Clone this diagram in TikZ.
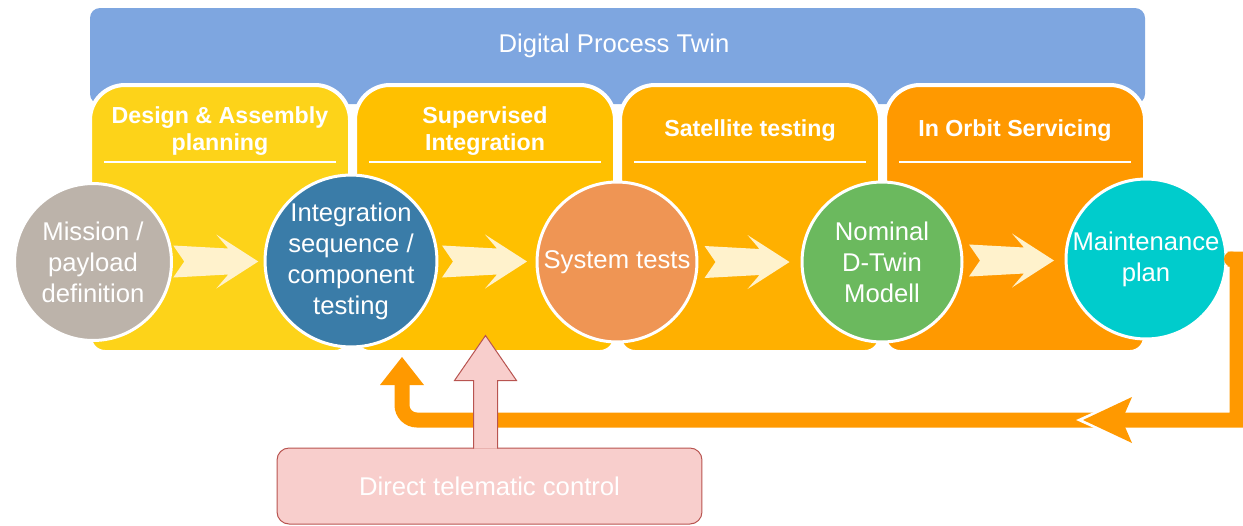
\documentclass[tikz,border=0pt]{standalone}
\usepackage{fontspec}
\setmainfont{Liberation Sans}
\usetikzlibrary{calc}

\definecolor{twinblue}{HTML}{7EA6E0}
\definecolor{phaseA}{HTML}{FDD319}
\definecolor{phaseB}{HTML}{FFC000}
\definecolor{phaseC}{HTML}{FFB000}
\definecolor{phaseD}{HTML}{FF9900}
\definecolor{taupe}{HTML}{BCB3AA}
\definecolor{steel}{HTML}{3A7CA8}
\definecolor{salmon}{HTML}{EF9554}
\definecolor{leaf}{HTML}{6BB95E}
\definecolor{aqua}{HTML}{00CCCC}
\definecolor{cream}{HTML}{FFF2CC}
\definecolor{rose}{HTML}{F8CECC}
\definecolor{roseline}{HTML}{B85450}

% one phase panel: left x, colour, heading, name
\newcommand\phasebox[4]{%
  \path[fill=#2,draw=white,line width=0.08cm]
    (#1+130,352) [rounded corners=0.3cm] -- (#1,352)
    [rounded corners=0.7cm] -- (#1,85) -- (#1+260,85)
    [rounded corners=0.3cm] -- (#1+260,352) -- cycle;
  \node[heading] (#4) at (#1+130,131) {#3};
  \draw[white,line width=0.03cm] (#1+14,162) -- (#1+246,162);
}

\begin{document}
\begin{tikzpicture}[x=0.02cm,y=-0.02cm,
    heading/.style={text=white,align=center,font=\fontsize{13.2}{15.4}\selectfont\bfseries},
    stage/.style={circle,draw=white,line width=0.06cm,minimum size=3.2cm,inner sep=0pt,
      text=white,align=center,font=\fontsize{14.6}{17.6}\selectfont},
    chev/.pic={\fill[cream] (-43,-16) -- (12,-13) -- (0,-27) -- (42,0) -- (0,27)
      -- (12,13) -- (-43,16) -- (-32,0) -- cycle;},
    feedback/.style={phaseD,line width=0.3cm},
    telebox/.style={rectangle,rounded corners=0.24cm,fill=rose,draw=roseline,line width=0.02cm,
      minimum width=8.5cm,minimum height=1.52cm,text=white,font=\fontsize{14.6}{17.6}\selectfont}]
\useasboundingbox (0,0) rectangle (1243,525);

% top band
\fill[twinblue,rounded corners=0.2cm] (90,8) rectangle (1145,104);
\node[text=white,font=\fontsize{14.6}{17.6}\selectfont] (dpt) at (614,46) {Digital Process Twin};

% phases
\phasebox{90}{phaseA}{Design \& Assembly\\planning}{design}
\phasebox{355}{phaseB}{Supervised\\Integration}{superv}
\phasebox{620}{phaseC}{Satellite testing}{sattest}
\phasebox{885}{phaseD}{In Orbit Servicing}{orbit}

% stages
\node[stage,fill=taupe,minimum size=3.14cm] (mission) at (93,262) {Mission /\\payload\\definition};
\node[stage,fill=steel] (integ) at (351,261) {Integration\\sequence /\\component\\testing};
\node[stage,fill=salmon] (systest) at (617,262) {System tests};
\node[stage,fill=leaf] (nominal) at (882,262) {Nominal\\D-Twin\\Modell};
\node[stage,fill=aqua] (upkeep) at (1146,259) {Maintenance\\plan};

\foreach \a/\b in {mission/integ,integ/systest,systest/nominal,nominal/upkeep}
  \pic at ($(\a.east)!0.5!(\b.west)+(-2,0)$) {chev};

% feedback loop back to integration
\coordinate (turnR) at (1237,420);
\coordinate (turnL) at (402,420);
\coordinate (fbtip) at (402,357);
\draw[feedback] (upkeep.east) -| (turnR)
  [rounded corners=0.3cm] -- (turnL) -- ($(fbtip)+(0,26)$);
\fill[phaseD] ($(fbtip)+(-22,28)$) -- (fbtip) -- ($(fbtip)+(22,28)$) -- cycle;
\fill[phaseD] ($(upkeep.east)+(4,0)$) circle[radius=0.15cm];
\coordinate (mark) at ($(turnR)+(-154,0)$);
\draw[white,line width=0.08cm] ($(mark)+(49,-23)$) -- ($(mark)+(-2,0)$) -- ($(mark)+(49,23)$);
\fill[phaseD] (mark) -- ++(49,-23) -- ++(-10,23) -- ++(10,23) -- cycle;

% direct control
\node[telebox] (dtc) at (489.5,486) {Direct telematic control};
\filldraw[fill=rose,draw=roseline,line width=0.02cm] ($(dtc.north)+(-4,1)$)
  ++(-12,0) -- ++(0,-68) -- ++(-19,0) -- ++(31,-45) -- ++(31,45) -- ++(-19,0) -- ++(0,68);
\end{tikzpicture}
\end{document}
